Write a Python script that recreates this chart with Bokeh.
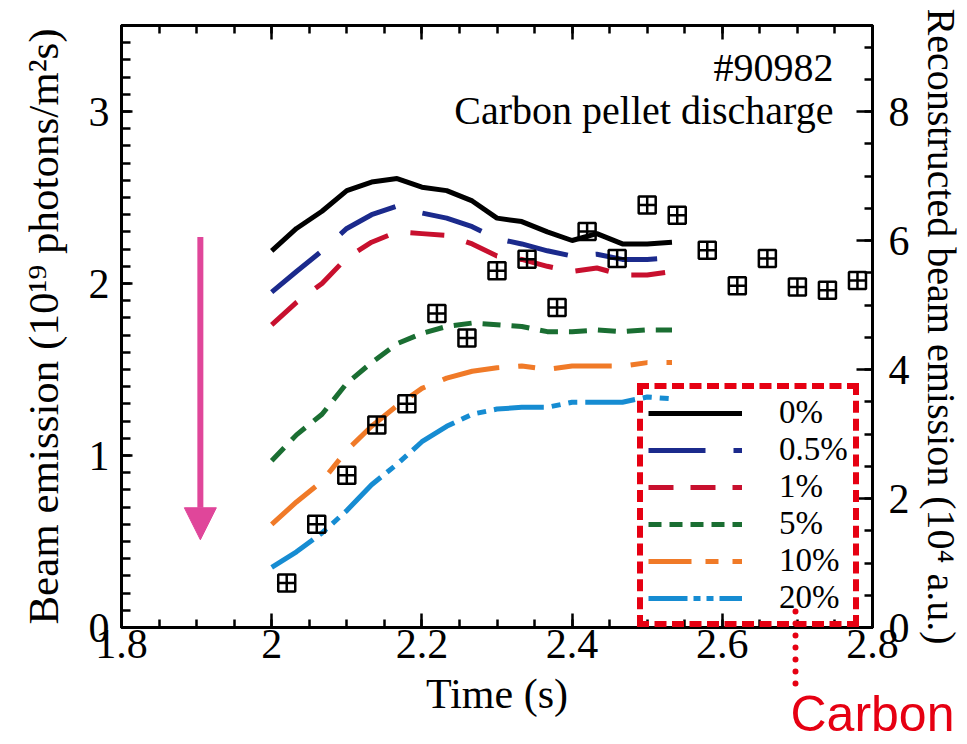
from bokeh.plotting import figure
from bokeh.models import (Range1d, LinearAxis, FixedTicker, CustomJSTickFormatter,
                          Legend, LegendItem, Label, Arrow, NormalHead)
from bokeh.embed import file_html
from bokeh.resources import INLINE

# ---- data -------------------------------------------------------------
# simulated beam emission (1e19 photons/m^2 s) for carbon impurity fractions
t_model = [2.000, 2.033, 2.067, 2.100, 2.133, 2.167, 2.200, 2.233, 2.267,
           2.300, 2.333, 2.367, 2.400, 2.433, 2.467, 2.500, 2.533]
beam_0 = [2.19, 2.32, 2.42, 2.54, 2.59, 2.61, 2.56, 2.54, 2.48,
          2.38, 2.36, 2.30, 2.25, 2.29, 2.23, 2.23, 2.24]
beam_05 = [1.95, 2.07, 2.19, 2.32, 2.40, 2.45, 2.41, 2.38, 2.33,
           2.26, 2.23, 2.19, 2.16, 2.17, 2.14, 2.14, 2.15]
beam_1 = [1.76, 1.89, 2.00, 2.15, 2.24, 2.30, 2.29, 2.28, 2.23,
          2.16, 2.14, 2.10, 2.07, 2.09, 2.05, 2.05, 2.07]
beam_5 = [0.97, 1.12, 1.24, 1.42, 1.54, 1.65, 1.71, 1.75, 1.77,
          1.76, 1.75, 1.72, 1.72, 1.73, 1.72, 1.73, 1.73]
beam_10 = [0.60, 0.73, 0.85, 1.03, 1.17, 1.29, 1.39, 1.45, 1.49,
           1.51, 1.52, 1.50, 1.52, 1.52, 1.52, 1.54, 1.54]
beam_20 = [0.35, 0.44, 0.55, 0.68, 0.83, 0.95, 1.08, 1.17, 1.24,
           1.27, 1.28, 1.28, 1.31, 1.31, 1.31, 1.34, 1.33]

# reconstructed beam emission (1e4 a.u.), right axis
t_meas = [2.02, 2.06, 2.10, 2.14, 2.18, 2.22, 2.26, 2.30, 2.34, 2.38,
          2.42, 2.46, 2.50, 2.54, 2.58, 2.62, 2.66, 2.70, 2.74, 2.78]
recon = [0.69, 1.60, 2.36, 3.14, 3.47, 4.87, 4.49, 5.53, 5.71, 4.96,
         6.14, 5.72, 6.55, 6.39, 5.85, 5.30, 5.72, 5.28, 5.23, 5.38]

labels = ["0%", "0.5%", "1%", "5%", "10%", "20%"]
series = [beam_0, beam_05, beam_1, beam_5, beam_10, beam_20]
colors = ["#000000", "#1b2a8c", "#c8102e", "#1a6e32", "#f07a28", "#168cd2"]
curve_dash = ["solid", "62 28", "34 23", "18 11", "58 19 17 19", "50 8 9 8 9 8"]
key_dash = ["solid", "57 28", "25 17", "13 8", "43 14 13 14", "39 6 7 6 7 6"]

x_ticks = [1.8, 2.0, 2.2, 2.4, 2.6, 2.8]
y_ticks = [0, 1, 2, 3]
yr_ticks = [0, 2, 4, 6, 8]

SERIF = "Liberation Serif"
RED = "#e60012"
PINK = "#e0469a"

# ---- figure -----------------------------------------------------------
p = figure(width=967, height=744, x_range=Range1d(1.8, 2.8), y_range=Range1d(0, 3.5),
           output_backend="svg", toolbar_location=None,
           min_border_left=121, min_border_right=95, min_border_top=25,
           min_border_bottom=116)
p.extra_y_ranges = {"recon": Range1d(0, 3.5 * 8 / 3)}
p.xgrid.visible = False
p.ygrid.visible = False
p.outline_line_color = "black"
p.outline_line_width = 3
p.background_fill_color = "white"
p.border_fill_color = "white"


def style_axis(ax, major_in, minor_in):
    ax.axis_line_width = 3
    ax.axis_line_color = "black"
    ax.major_tick_in = major_in
    ax.major_tick_out = 0
    ax.minor_tick_in = minor_in
    ax.minor_tick_out = 0
    ax.major_tick_line_width = 2.5
    ax.minor_tick_line_width = 2.5
    ax.major_tick_line_color = "black"
    ax.minor_tick_line_color = "black"
    ax.major_label_text_font = SERIF
    ax.major_label_text_font_size = "42px"
    ax.major_label_text_color = "black"
    ax.axis_label_text_font = SERIF
    ax.axis_label_text_font_style = "normal"
    ax.axis_label_text_color = "black"


x_ticker = FixedTicker(ticks=x_ticks, minor_ticks=[1.8 + 0.05 * i for i in range(21)])

xb = p.xaxis[0]
xb.ticker = x_ticker
xb.formatter = CustomJSTickFormatter(code="return String(Math.round(tick * 10) / 10);")
style_axis(xb, 14, 8)
xb.major_label_standoff = 2
xb.axis_label = "Time (s)"
xb.axis_label_text_font_size = "42px"
xb.axis_label_standoff = 10

yl = p.yaxis[0]
yl.ticker = FixedTicker(ticks=y_ticks, minor_ticks=[0.1 * i for i in range(36)])
style_axis(yl, 11, 9)
yl.major_label_standoff = 12
yl.axis_label = "Beam emission (10\u00b9\u2079 photons/m\u00b2s)"
yl.axis_label_text_font_size = "43px"
yl.axis_label_standoff = 19

yr = LinearAxis(y_range_name="recon",
                ticker=FixedTicker(ticks=yr_ticks, minor_ticks=[0.5 * i for i in range(19)]))
style_axis(yr, 16, 8)
yr.major_label_standoff = 16
yr.axis_label = "Reconstructed beam emission (10\u2074 a.u.)"
yr.axis_label_text_font_size = "40px"
yr.axis_label_standoff = 6
p.add_layout(yr, "right")

xt = LinearAxis(ticker=x_ticker, formatter=CustomJSTickFormatter(code="return '';"))
style_axis(xt, 14, 8)
p.add_layout(xt, "above")

# red callout under the legend: a dotted leader and its caption
callout = LinearAxis(ticker=FixedTicker(ticks=[2.8], minor_ticks=[2.697]),
                     formatter=CustomJSTickFormatter(code="return 'Carbon';"))
callout.axis_line_color = None
callout.major_tick_line_color = None
callout.major_tick_in = 0
callout.major_tick_out = 0
callout.minor_tick_line_color = RED
callout.minor_tick_line_width = 6
callout.minor_tick_line_dash = "0 12"
callout.minor_tick_line_cap = "round"
callout.minor_tick_in = 118
callout.minor_tick_out = -36
callout.major_label_text_font = "Liberation Sans"
callout.major_label_text_font_size = "50px"
callout.major_label_text_color = RED
callout.major_label_standoff = -34
p.add_layout(callout, "below")

# ---- model curves -----------------------------------------------------
for ys, c, d in zip(series, colors, curve_dash):
    p.line(t_model, ys, line_color=c, line_width=5, line_dash=d)

# ---- reconstructed points ---------------------------------------------
p.scatter(t_meas, recon, y_range_name="recon", marker="square_cross", size=17,
          line_color="black", line_width=2.5, fill_color=None)

# ---- legend (dotted red frame) ----------------------------------------
items = []
for lab, ys, c, d in zip(labels, series, colors, key_dash):
    key = p.line(t_model, ys, line_color=c, line_width=5, line_dash=d, visible=False)
    items.append(LegendItem(label=lab, renderers=[key]))
legend = Legend(items=items, location=(516, 0), margin=0, padding=5, spacing=0,
                glyph_width=94, glyph_height=30, label_height=30, label_standoff=37,
                label_text_font=SERIF, label_text_font_size="33px",
                label_text_color="black",
                background_fill_alpha=0,
                border_line_color=RED, border_line_alpha=1.0, border_line_width=6,
                border_line_dash="0 13", border_line_cap="round")
p.add_layout(legend, "center")

# ---- annotations ------------------------------------------------------
p.add_layout(Label(x=2.748, y=3.256, text="#90982", text_align="right",
                   text_baseline="middle", text_font=SERIF, text_font_size="40px",
                   text_color="black"))
p.add_layout(Label(x=2.748, y=3.006, text="Carbon pellet discharge", text_align="right",
                   text_baseline="middle", text_font=SERIF, text_font_size="40px",
                   text_color="black"))

# direction of increasing carbon fraction
p.add_layout(Arrow(end=NormalHead(size=32, fill_color=PINK, line_color=PINK, line_width=1),
                   x_start=1.905, y_start=2.27, x_end=1.905, y_end=0.51,
                   line_color=PINK, line_width=6))

open("out.html", "w").write(file_html(p, INLINE))
